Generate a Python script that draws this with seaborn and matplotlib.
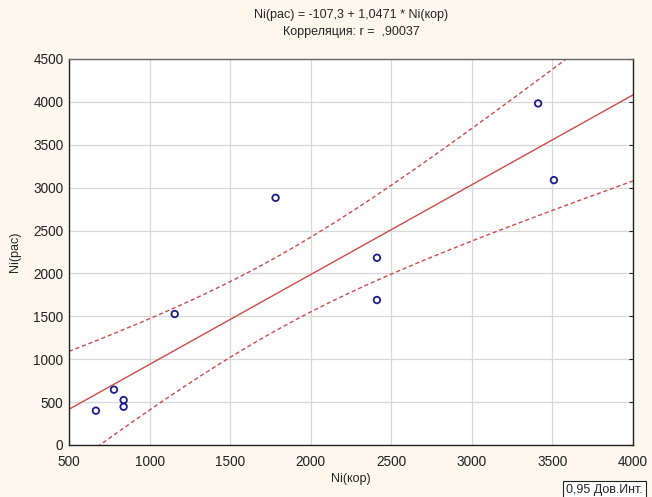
import numpy as np
import pandas as pd
import matplotlib
matplotlib.use("Agg")
import matplotlib.pyplot as plt
import seaborn as sns

# Observed nickel values
ni_kor = [667, 779, 839, 839, 1156, 1782, 2411, 2411, 3411, 3509]
ni_ras = [400, 645, 524, 446, 1527, 2882, 2183, 1690, 3982, 3088]

# Fitted model and correlation as reported
intercept = -107.3
slope = 1.0471
r_value = ",90037"

x_ticks = [500, 1000, 1500, 2000, 2500, 3000, 3500, 4000]
y_ticks = [0, 500, 1000, 1500, 2000, 2500, 3000, 3500, 4000, 4500]

df = pd.DataFrame({"Ni(кор)": ni_kor, "Ni(рас)": ni_ras})

# 95% confidence band for the mean response
x = np.asarray(ni_kor, float)
y = np.asarray(ni_ras, float)
n = len(x)
resid = y - (intercept + slope * x)
s = np.sqrt(np.sum(resid ** 2) / (n - 2))
t_crit = 2.306  # t(0.975, df=8)
xg = np.linspace(500, 4000, 300)
fit = intercept + slope * xg
half = t_crit * s * np.sqrt(1 / n + (xg - x.mean()) ** 2 / np.sum((x - x.mean()) ** 2))
band = pd.DataFrame({"x": xg, "fit": fit, "lo": fit - half, "hi": fit + half})

sns.set_style("white")
plt.rcParams["font.family"] = ["Liberation Sans", "DejaVu Sans"]

fig = plt.figure(figsize=(6.52, 4.97), dpi=100, facecolor="#fdf8ee")
ax = fig.add_axes([69 / 652, 1 - 445 / 497, 564 / 652, 386 / 497])
ax.set_facecolor("white")

red = "#d24a4a"
sns.lineplot(data=band, x="x", y="fit", ax=ax, color=red, lw=1.0)
sns.lineplot(data=band, x="x", y="lo", ax=ax, color=red, lw=1.0, linestyle=(0, (3, 2)))
sns.lineplot(data=band, x="x", y="hi", ax=ax, color=red, lw=1.0, linestyle=(0, (3, 2)))
sns.scatterplot(data=df, x="Ni(кор)", y="Ni(рас)", ax=ax, marker="o", s=22,
                facecolor="none", edgecolor="#1c1c8a", linewidth=1.3, zorder=5)

ax.set_xlim(500, 4000)
ax.set_ylim(0, 4500)
ax.set_xticks(x_ticks)
ax.set_yticks(y_ticks)
ax.tick_params(labelsize=9.8, colors="#222222", length=3, direction="in",
               right=True, top=False, left=False, bottom=False)
ax.tick_params(axis="x", pad=7)
ax.tick_params(axis="y", pad=4)
ax.grid(True, color="#d8d8d8", lw=0.9)
ax.set_axisbelow(True)
for side in ["left", "bottom", "right"]:
    ax.spines[side].set_color("#222222")
    ax.spines[side].set_linewidth(1.0)
ax.spines["top"].set_color("#666666")
ax.spines["top"].set_linewidth(1.0)

ax.set_xlabel("Ni(кор)", fontsize=9, labelpad=3)
ax.set_ylabel("Ni(рас)", fontsize=9, labelpad=9)

cx = (69 + 633) / 2 / 652
fig.text(cx, 1 - 15 / 497,
         f"Ni(рас) = {str(intercept).replace('.', ',')} + {str(slope).replace('.', ',')} * Ni(кор)",
         fontsize=9, ha="center", va="center")
fig.text(cx, 1 - 32 / 497, f"Корреляция: r =  {r_value}", fontsize=9, ha="center", va="center")

fig.text(566 / 652, 1 - 490 / 497, "0,95 Дов.Инт.", fontsize=9, va="center", ha="left",
         bbox=dict(boxstyle="square,pad=0.25", fc="white", ec="#222222", lw=0.8))

fig.savefig("out.png", dpi=100, facecolor=fig.get_facecolor())
